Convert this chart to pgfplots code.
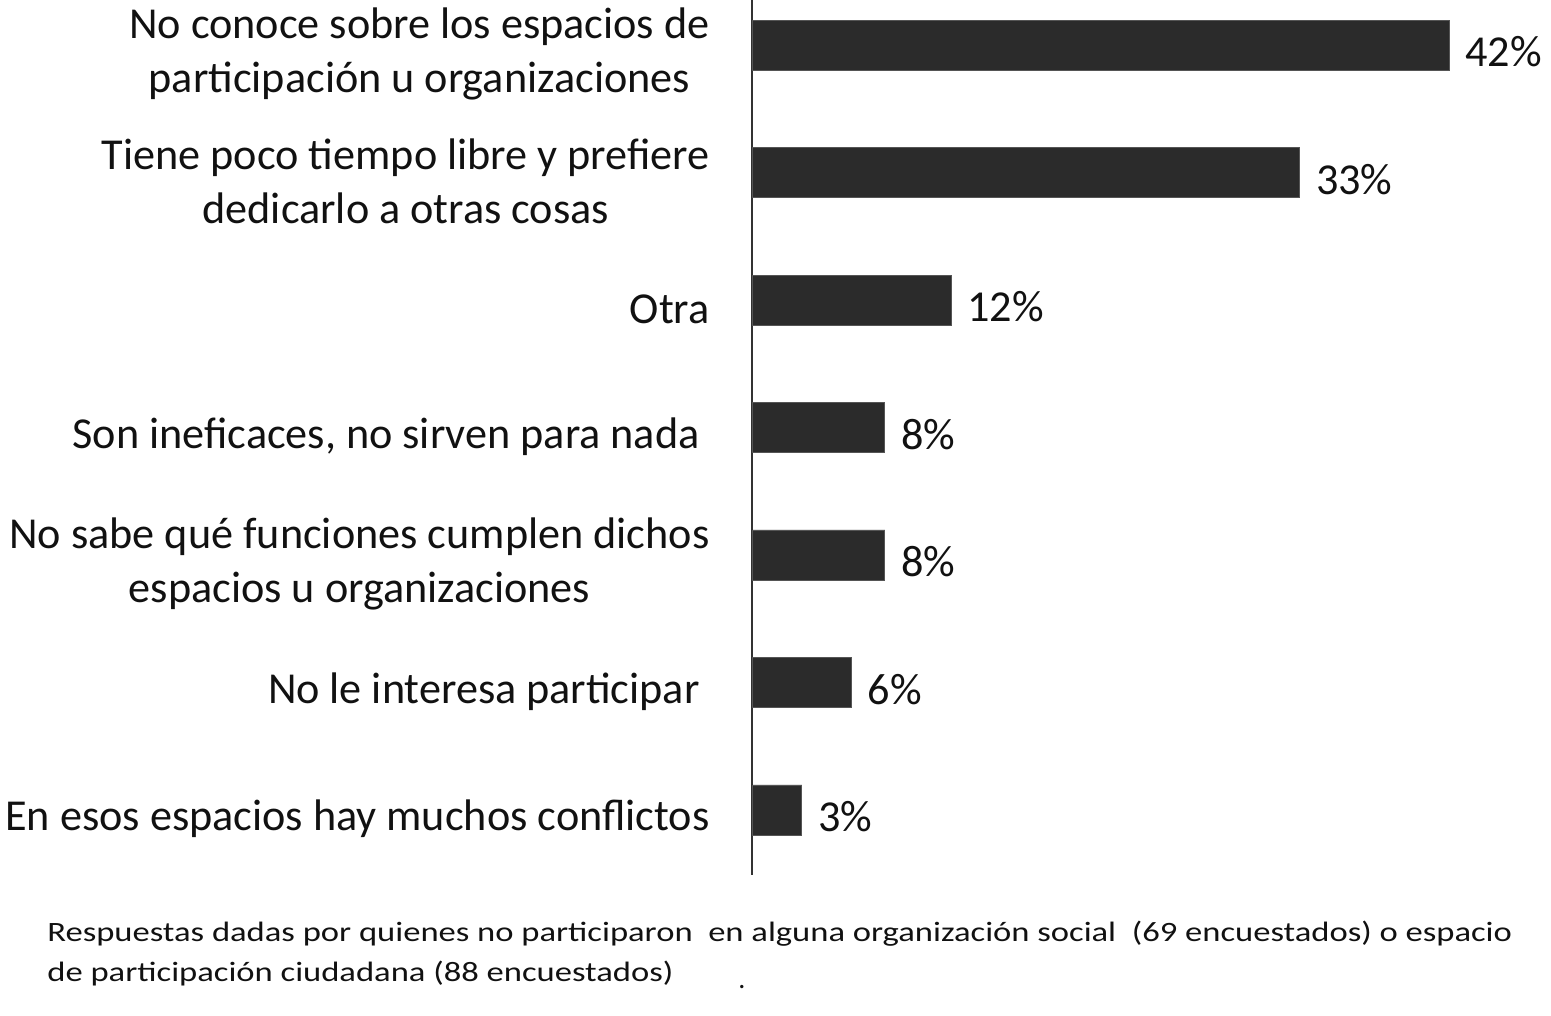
\documentclass[border=0pt]{standalone}
\usepackage{pgfplots}
\pgfplotsset{compat=1.18}
\usepackage{fontspec}
\setmainfont{Carlito}
\definecolor{barc}{HTML}{2B2B2B}
\definecolor{txt}{HTML}{111111}
\begin{document}
\begin{tikzpicture}
\useasboundingbox (-376pt,0pt) rectangle (399.5pt,-508pt);
\begin{axis}[
  at={(0pt,0pt)}, anchor=north west,
  scale only axis, width=348.5pt, height=437.5pt,
  xmin=0, xmax=42, ymin=-0.353, ymax=6.51, y dir=reverse,
  xbar, bar width=25pt, clip=false,
  axis x line=none, axis y line*=left,
  y axis line style={draw=black!80, line width=1pt},
  ytick={0,1,2,3,4,5,6},
  yticklabels={{No conoce sobre los espacios de\\participación u organizaciones},
    {Tiene poco tiempo libre y prefiere\\dedicarlo a otras cosas},
    {Otra},
    {Son ineficaces, no sirven para nada\hspace*{5pt}},
    {No sabe qué funciones cumplen dichos\\espacios u organizaciones},
    {No le interesa participar\hspace*{5pt}},
    {En esos espacios hay muchos conflictos}},
  major tick length=0pt, ytick style={draw=none},
  yticklabel style={align=center, inner sep=0pt, xshift=-21pt, yshift=-4.5pt, text=txt,
    font=\fontsize{22.1}{26.8}\selectfont},
  point meta=explicit symbolic,
  nodes near coords={\pgfplotspointmeta\%},
  nodes near coords style={anchor=west, inner sep=0pt, xshift=8pt, yshift=-3.5pt, text=txt,
    font=\fontsize{22.1}{26.8}\selectfont},
]
\addplot[fill=barc, draw=barc!80] coordinates {(42,0) [42] (33,1) [33] (12,2) [12] (8,3) [8] (8,4) [8] (6,5) [6] (3,6) [3]};
\end{axis}
\node[anchor=base west, inner sep=0pt, text=txt, font=\fontsize{14}{20}\selectfont] at (-352.5pt,-470.5pt)
  {\scalebox{1.235}[1]{Respuestas dadas por quienes no participaron~ en alguna organización social~ (69 encuestados) o espacio}};
\node[anchor=base west, inner sep=0pt, text=txt, font=\fontsize{14}{20}\selectfont] at (-352.5pt,-490.5pt)
  {\scalebox{1.235}[1]{de participación ciudadana (88 encuestados)}};
\node[anchor=base west, inner sep=0pt, text=txt, font=\fontsize{14}{20}\selectfont] at (-7pt,-494pt) {.};
\end{tikzpicture}
\end{document}
